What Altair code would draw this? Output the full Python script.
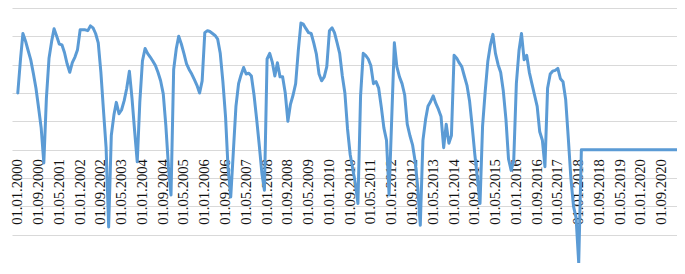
import altair as alt
import pandas as pd

# Monthly values (one list per year, Jan..Dec)
v2000 = [2.00, 3.17, 4.10, 3.83, 3.50, 3.17, 2.70, 2.17, 1.47, 0.77, -0.47, 1.80]
v2001 = [3.23, 3.83, 4.27, 4.00, 3.73, 3.70, 3.43, 3.03, 2.73, 3.07, 3.27, 3.53]
v2002 = [4.23, 4.23, 4.23, 4.20, 4.37, 4.30, 4.10, 3.77, 2.73, 1.40, 0.07, -2.73]
v2003 = [0.50, 1.23, 1.67, 1.27, 1.40, 1.73, 2.17, 2.77, 1.80, 0.67, -0.43, 1.67]
v2004 = [3.13, 3.57, 3.40, 3.27, 3.13, 2.97, 2.73, 2.43, 1.97, 0.87, -0.60, -1.60]
v2005 = [2.83, 3.57, 4.00, 3.73, 3.40, 3.03, 2.83, 2.67, 2.47, 2.27, 2.00, 2.43]
v2006 = [4.13, 4.20, 4.17, 4.10, 4.03, 3.90, 3.40, 2.40, 1.17, -0.67, -1.67, -0.10]
v2007 = [1.53, 2.33, 2.63, 2.90, 2.67, 2.70, 2.60, 1.93, 1.07, 0.17, -0.83, -1.43]
v2008 = [3.20, 3.40, 3.10, 2.60, 3.07, 2.57, 2.57, 2.00, 1.00, 1.60, 1.93, 2.33]
v2009 = [3.50, 4.47, 4.43, 4.27, 4.13, 4.10, 3.77, 3.37, 2.67, 2.43, 2.57, 2.93]
v2010 = [4.20, 4.30, 4.13, 3.77, 3.40, 2.60, 2.00, 0.73, -0.17, -0.67, -1.20, -1.90]
v2011 = [1.90, 3.40, 3.33, 3.20, 2.97, 2.33, 2.40, 2.17, 1.50, 0.77, 0.33, -1.60]
v2012 = [1.10, 3.77, 2.93, 2.57, 2.33, 1.93, 0.90, 0.50, 0.17, -0.40, -1.33, -2.67]
v2013 = [0.33, 1.07, 1.53, 1.70, 1.90, 1.63, 1.43, 1.17, 0.07, 0.90, 0.23, 0.50]
v2014 = [3.33, 3.23, 3.07, 2.93, 2.60, 2.27, 1.73, 0.83, -0.17, -1.00, -1.90, 0.83]
v2015 = [2.07, 3.13, 3.67, 4.07, 3.40, 3.00, 2.73, 2.07, 1.07, -0.33, -0.73, -0.40]
v2016 = [2.33, 3.50, 4.10, 3.17, 3.33, 2.73, 2.33, 1.93, 1.53, 0.63, 0.33, -0.60]
v2017 = [2.17, 2.67, 2.77, 2.80, 2.87, 2.50, 2.40, 1.77, 0.40, -1.00, -2.00, -2.40]
v2018 = [-4.00, 0, 0, 0, 0, 0, 0, 0, 0, 0, 0, 0]
v2019 = [0, 0, 0, 0, 0, 0, 0, 0, 0, 0, 0, 0]
v2020 = [0, 0, 0, 0, 0, 0, 0, 0, 0, 0, 0, 0]
v2021 = [0, 0, 0]

tick_labels = [
    "01.01.2000", "01.09.2000", "01.05.2001", "01.01.2002", "01.09.2002",
    "01.05.2003", "01.01.2004", "01.09.2004", "01.05.2005", "01.01.2006",
    "01.09.2006", "01.05.2007", "01.01.2008", "01.09.2008", "01.05.2009",
    "01.01.2010", "01.09.2010", "01.05.2011", "01.01.2012", "01.09.2012",
    "01.05.2013", "01.01.2014", "01.09.2014", "01.05.2015", "01.01.2016",
    "01.09.2016", "01.05.2017", "01.01.2018", "01.09.2018", "01.05.2019",
    "01.01.2020", "01.09.2020",
]

values = (v2000 + v2001 + v2002 + v2003 + v2004 + v2005 + v2006 + v2007 + v2008
          + v2009 + v2010 + v2011 + v2012 + v2013 + v2014 + v2015 + v2016 + v2017
          + v2018 + v2019 + v2020 + v2021)
dates = pd.date_range("2000-01-01", periods=len(values), freq="MS").strftime("%Y-%m-%d")
df = pd.DataFrame({"date": list(dates), "value": values})

tick_values = [alt.DateTime(year=int(s[6:]), month=int(s[3:5]), date=int(s[:2]), utc=True)
               for s in tick_labels]

W = 665
H = 255

x_domain = [alt.DateTime(year=1999, month=10, date=25, utc=True),
            alt.DateTime(year=2021, month=2, date=26, utc=True)]

chart = alt.Chart(df).mark_line(
    color="#5B9BD5", strokeWidth=3, clip=True, strokeJoin="round", strokeCap="round"
).encode(
    x=alt.X("date:T",
            scale=alt.Scale(type="utc", domain=x_domain),
            axis=alt.Axis(values=tick_values, format="%d.%m.%Y", labelAngle=270,
                          labelFont="Liberation Serif", labelFontSize=14.6,
                          labelColor="#111111", labelPadding=9, ticks=False, tickSize=0,
                          domain=False, grid=False, offset=-(H * 4 / 9),
                          labelOverlap=False, labelBound=False, labelFlush=False,
                          title=None)),
    y=alt.Y("value:Q",
            scale=alt.Scale(domain=[-4, 5], nice=False, zero=False),
            axis=alt.Axis(values=list(range(-4, 6)), labels=False, ticks=False,
                          domain=False, title=None, gridColor="#D9D9D9", gridWidth=1)),
).properties(
    width=W, height=H,
    autosize=alt.AutoSizeParams(type="none"),
    padding={"left": 4, "top": 0, "right": 0, "bottom": 0},
).configure_view(strokeWidth=0)

chart.save("out.html", embed_options={"renderer": "svg", "actions": False})
